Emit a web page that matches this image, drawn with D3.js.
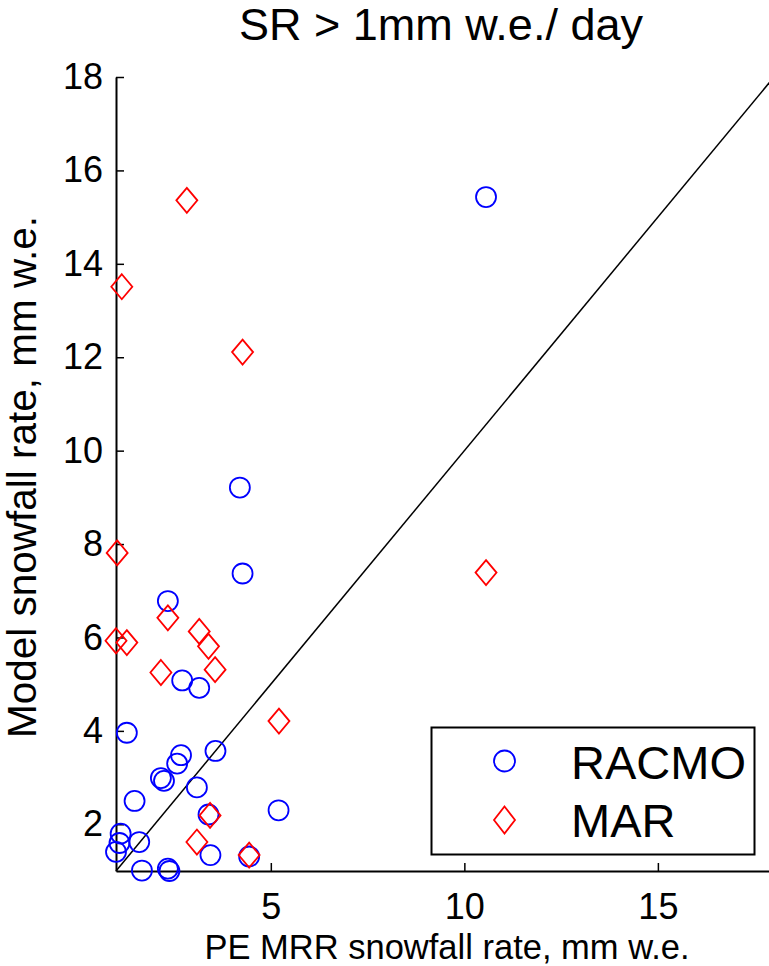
<!DOCTYPE html>
<html>
<head>
<meta charset="utf-8">
<script src="https://cdn.jsdelivr.net/npm/d3@7"></script>
<style>
  body { margin: 0; background: #fff; }
  svg { display: block; font-family: "Liberation Sans", Arial, Helvetica, sans-serif; }
</style>
</head>
<body>
<svg id="chart" width="769" height="966"></svg>
<script>
// PE MRR snowfall rate (x) vs model snowfall rate (y), mm w.e.
const racmoX = [10.56, 4.20, 4.27, 2.34, 2.71, 3.15, 1.28, 3.57, 2.68, 2.58, 2.16, 2.24, 3.09,
                1.48, 5.20, 3.39, 1.12, 1.09, 1.60, 1.00, 3.44, 4.44, 1.67, 2.34, 2.38];
const racmoY = [15.43, 9.21, 7.37, 6.78, 5.08, 4.92, 3.96, 3.57, 3.48, 3.30, 2.99, 2.93, 2.79,
                2.50, 2.30, 2.21, 1.80, 1.60, 1.62, 1.41, 1.34, 1.31, 1.01, 1.05, 1.00];
const marX = [2.83, 1.15, 4.27, 1.03, 10.56, 2.34, 3.15, 3.39, 1.00, 1.28, 3.56, 2.16, 5.21, 3.43, 3.09, 4.44];
const marY = [15.36, 13.51, 12.11, 7.81, 7.39, 6.42, 6.13, 5.81, 5.93, 5.89, 5.31, 5.25, 4.21, 2.19, 1.62, 1.34];
const xTicks = [5, 10, 15];
const yTicks = [2, 4, 6, 8, 10, 12, 14, 16, 18];
const seriesNames = ["RACMO", "MAR"];

const margin = {top: 77, left: 116, bottom: 95};
const plotW = 658, plotH = 794;

const svg = d3.select("#chart");

const x = d3.scaleLinear().domain([1, 18]).range([margin.left, margin.left + plotW]);
const y = d3.scaleLinear().domain([1, 18]).range([margin.top + plotH, margin.top]);

const diamond = (cx, cy, w, h) => `M${cx},${cy - h}L${cx + w},${cy}L${cx},${cy + h}L${cx - w},${cy}Z`;

// 1:1 line
svg.append("line")
    .attr("x1", x(1)).attr("y1", y(1))
    .attr("x2", x(18)).attr("y2", y(18))
    .attr("stroke", "#000")
    .attr("stroke-width", 1.5);

// axes (inward ticks, box off)
const xAxis = svg.append("g")
    .attr("transform", `translate(0,${y(1)})`)
    .call(d3.axisBottom(x).tickValues(xTicks).tickSizeInner(-8).tickSizeOuter(0).tickPadding(22));

const yAxis = svg.append("g")
    .attr("transform", `translate(${x(1)},0)`)
    .call(d3.axisLeft(y).tickValues(yTicks).tickSizeInner(-8).tickSizeOuter(0).tickPadding(13));

[xAxis, yAxis].forEach(g => {
  g.selectAll(".domain").attr("stroke", "#000").attr("stroke-width", 2);
  g.selectAll(".tick line").attr("stroke", "#000").attr("stroke-width", 1.5);
  g.selectAll(".tick text")
      .attr("font-family", "Liberation Sans, Arial, sans-serif")
      .attr("font-size", 36)
      .attr("fill", "#000");
});

// RACMO circles
svg.append("g")
    .attr("fill", "none")
    .attr("stroke", "#0000ff")
    .attr("stroke-width", 1.8)
  .selectAll("circle")
  .data(racmoX.map((d, i) => [d, racmoY[i]]))
  .join("circle")
    .attr("cx", d => x(d[0]))
    .attr("cy", d => y(d[1]))
    .attr("r", 10);

// MAR diamonds
svg.append("g")
    .attr("fill", "none")
    .attr("stroke", "#ff0000")
    .attr("stroke-width", 1.8)
  .selectAll("path")
  .data(marX.map((d, i) => [d, marY[i]]))
  .join("path")
    .attr("d", d => diamond(x(d[0]), y(d[1]), 10.5, 12.5));

// title and labels
svg.append("text")
    .attr("x", 441)
    .attr("y", 40)
    .attr("text-anchor", "middle")
    .attr("font-size", 45)
    .text("SR > 1mm w.e./ day");

svg.append("text")
    .attr("transform", `translate(36,${477}) rotate(-90)`)
    .attr("text-anchor", "middle")
    .attr("font-size", 40.5)
    .text("Model snowfall rate, mm w.e.");

svg.append("text")
    .attr("x", 447)
    .attr("y", 959)
    .attr("text-anchor", "middle")
    .attr("font-size", 34.5)
    .text("PE MRR snowfall rate, mm w.e.");

// legend
const legend = svg.append("g");
legend.append("rect")
    .attr("x", 431.5).attr("y", 727.5)
    .attr("width", 323).attr("height", 127)
    .attr("fill", "#fff")
    .attr("stroke", "#000")
    .attr("stroke-width", 2);
legend.append("circle")
    .attr("cx", 504.5).attr("cy", 761).attr("r", 10.5)
    .attr("fill", "none").attr("stroke", "#0000ff").attr("stroke-width", 1.8);
legend.append("path")
    .attr("d", diamond(504.5, 820, 10.5, 13.5))
    .attr("fill", "none").attr("stroke", "#ff0000").attr("stroke-width", 1.8);
legend.selectAll("text.lab")
  .data(seriesNames)
  .join("text")
    .attr("class", "lab")
    .attr("x", 571)
    .attr("y", (d, i) => 779 + i * 58)
    .attr("font-size", 47)
    .text(d => d);
</script>
</body>
</html>
